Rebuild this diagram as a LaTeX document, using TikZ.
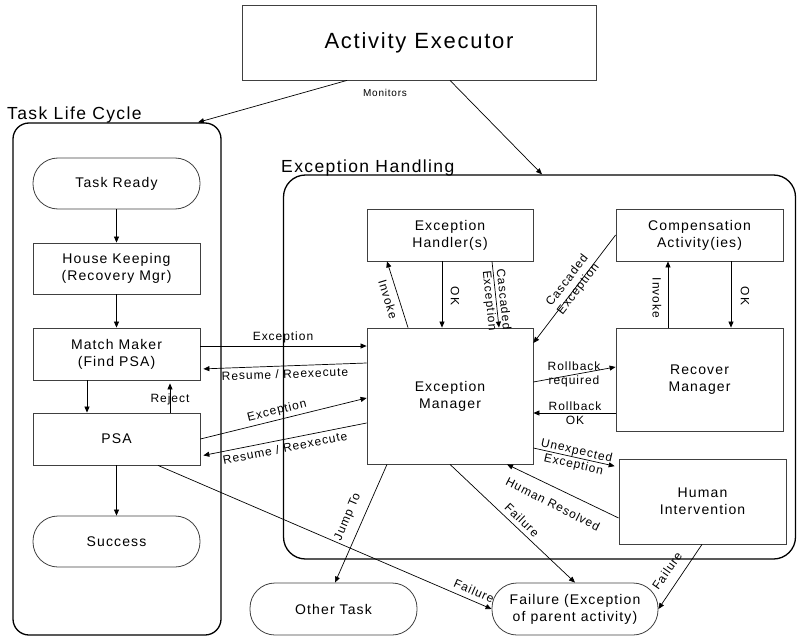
\documentclass[tikz,border=0pt]{standalone}
\usepackage{fontspec}
\setmainfont{Liberation Sans}[LetterSpace=8]
\usetikzlibrary{arrows.meta}
\begin{document}
\begin{tikzpicture}[x=1pt,y=-1pt,
  box/.style={draw=black!75, line width=0.8pt, minimum width=167pt, minimum height=52pt, inner sep=0pt, align=center, font=\fontsize{14}{17}\selectfont},
  term/.style={box, rounded corners=25pt},
  cont/.style={draw=black, line width=1.3pt, inner sep=0pt},
  conn/.style={line width=0.7pt, -{Triangle[length=6pt,width=5pt]}},
  lab/.style={font=\fontsize{12}{14}\selectfont, inner sep=0pt, align=center},
  ttl/.style={font=\fontsize{17.5}{20}\selectfont, inner sep=0pt, anchor=base west},
]
\useasboundingbox (0,0) rectangle (797,639);

% containers
\node[cont, rounded corners=16pt, minimum width=208pt, minimum height=512pt] (tlc) at (117,379) {};
\node[cont, rounded corners=22pt, minimum width=512pt, minimum height=384pt] (ehc) at (539.5,367) {};
\node[ttl] (tlct) at (7,120) {Task Life Cycle};
\node[ttl] (ehct) at (281,172) {Exception Handling};

% top
\node[box, minimum width=354pt, minimum height=75pt, font=\fontsize{22}{26}\selectfont] (ae) at (419,42.5) {Activity Executor};
\node[font=\fontsize{10}{12}\selectfont, inner sep=0pt] (mon) at (385,93) {Monitors};

% left column
\node[term, minimum height=51pt] (tr) at (116.5,183.5) {Task Ready};
\node[box, minimum height=51pt] (hk) at (116.5,268.5) {House Keeping\\(Recovery Mgr)};
\node[box] (mm) at (116.5,354) {Match Maker\\(Find PSA)};
\node[box] (psa) at (116.5,439) {PSA};
\node[term, minimum height=51pt] (succ) at (116.5,541.5) {Success};

% exception handling
\node[box, minimum width=166pt] (ehs) at (450,235) {Exception\\Handler(s)};
\node[box] (comp) at (699.5,235) {Compensation\\Activity(ies)};
\node[box, minimum width=166pt, minimum height=136pt] (em) at (450,396) {Exception\\Manager};
\node[box, minimum height=103pt] (rm) at (699.5,379.5) {Recover\\Manager};
\node[box, minimum height=85pt] (hi) at (702.5,501.5) {Human\\Intervention};

% bottom terminals
\node[term] (other) at (333.5,609) {Other Task};
\node[term, minimum width=166pt] (fail) at (575,609) {Failure (Exception\\of parent activity)};

% connectors
\draw[conn] (347,0 |- ae.south) -- (198,0 |- tlc.north);
\draw[conn] (450,0 |- ae.south) -- (542,0 |- ehc.north);

\draw[conn] (tr) -- (hk);
\draw[conn] (hk) -- (mm);
\draw[conn] (87,0 |- mm.south) -- (87,0 |- psa.north);
\draw[conn, shorten >=3pt] (170,0 |- psa.north) -- (170,0 |- mm.south);
\draw[conn] (psa) -- (succ);

\draw[conn] (mm.east |- 0,346) -- (em.west |- 0,346);
\draw[conn, shorten >=3pt] (em.west |- 0,363) -- (mm.east |- 0,369);
\draw[conn] (psa.east |- 0,439) -- (em.west |- 0,398);
\draw[conn, shorten >=3pt] (em.west |- 0,423) -- (psa.east |- 0,456);

\draw[conn] (408,0 |- em.north) -- (387,0 |- ehs.south);
\draw[conn] (442,0 |- ehs.south) -- (442,0 |- em.north);
\draw[conn] (492,0 |- ehs.south) -- (499,0 |- em.north);
\draw[conn] (comp.west |- 0,235) -- (em.east |- 0,343);
\draw[conn] (668,0 |- rm.north) -- (668,0 |- comp.south);
\draw[conn] (731,0 |- comp.south) -- (731,0 |- rm.north);
\draw[conn] (em.east |- 0,382) -- (rm.west |- 0,367);
\draw[conn] (rm.west |- 0,413) -- (em.east |- 0,413);
\draw[conn, shorten >=4pt] (em.east |- 0,448) -- (hi.west |- 0,467);
\draw[conn] (hi.west |- 0,518) -- (507,0 |- em.south);
\draw[conn] (450,0 |- em.south) -- (fail.north);
\draw[conn] (387,0 |- em.south) -- (335,0 |- other.north);
\draw[conn] (158,0 |- psa.south) -- (fail.west);
\draw[conn] (702,0 |- hi.south) -- (fail.east);

% labels
\node[lab] (lrej) at (170,399) {Reject};
\node[lab] (lex1) at (283,337) {Exception};
\node[lab, rotate=2] (lre1) at (285,374) {Resume / Reexecute};
\node[lab, rotate=14] (lex2) at (277,411) {Exception};
\node[lab, rotate=11.4] (lre2) at (285,448) {Resume / Reexecute};
\node[lab, rotate=-73] (linv1) at (388,299) {Invoke};
\node[lab, rotate=-90] (lok1) at (455,296) {OK};
\node[lab, rotate=-84] (lcas1) at (496,300) {Cascaded\\Exception};
\node[lab, rotate=52.5] (lcas2) at (573,285) {Cascaded\\Exception};
\node[lab, rotate=-90] (linv2) at (657,298) {Invoke};
\node[lab, rotate=-90] (lok2) at (745,296) {OK};
\node[lab] (lrbr) at (574,374) {Rollback\\required};
\node[lab] (lrbo) at (575,413) {Rollback\\OK};
\node[lab, rotate=-13] (lune) at (575,458) {Unexpected\\Exception};
\node[lab, rotate=-27] (lhr) at (553,504) {Human Resolved};
\node[lab, rotate=-44] (lf1) at (522,520) {Failure};
\node[lab, rotate=67] (ljt) at (348,517) {Jump To};
\node[lab, rotate=-24] (lf2) at (474,591) {Failure};
\node[lab, rotate=55] (lf3) at (667,571) {Failure};
\end{tikzpicture}
\end{document}
